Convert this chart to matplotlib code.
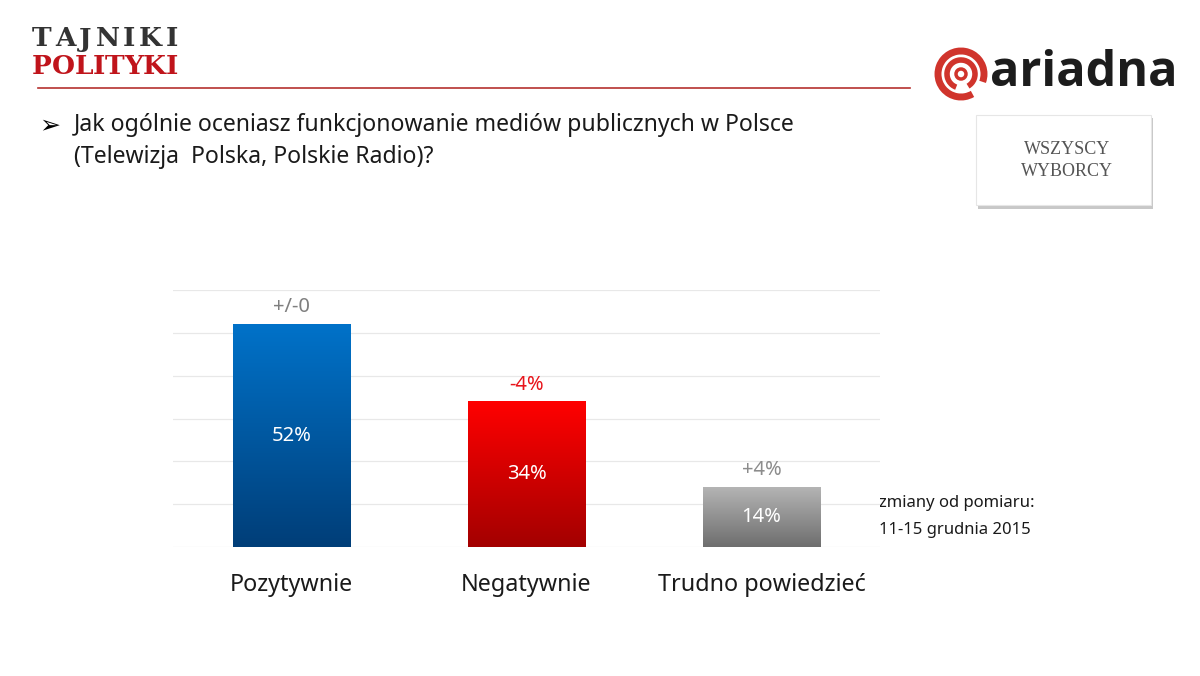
import matplotlib
matplotlib.use("Agg")
import matplotlib.pyplot as plt
import numpy as np
from matplotlib.colors import LinearSegmentedColormap
from matplotlib.patches import Rectangle, Arc, Circle

categories = ["Pozytywnie", "Negatywnie", "Trudno powiedzieć"]
values = [52, 34, 14]
changes = ["+/-0", "-4%", "+4%"]
change_colors = ["#7f7f7f", "#e8141b", "#8c8c8c"]
grads = [("#0072c9", "#003e78"), ("#ff0000", "#a30000"), ("#b4b4b4", "#6e6e6e")]
yticks = [0, 10, 20, 30, 40, 50, 60]

FONT = ["Noto Sans", "DejaVu Sans"]
plt.rcParams["font.family"] = FONT

fig = plt.figure(figsize=(12, 6.76), dpi=100)
fig.patch.set_facecolor("white")
renderer = fig.canvas.get_renderer()

# decoration layer in pixel coords
deco = fig.add_axes([0, 0, 1, 1])
deco.set_xlim(0, 1200)
deco.set_ylim(676, 0)
deco.axis("off")


def tracked(text, x0, x1, y, **kw):
    """Draw text letter by letter, spread evenly between x0 and x1."""
    arts = []
    widths = []
    for ch in text:
        t = deco.text(0, y, ch, ha="left", va="center", **kw)
        bb = t.get_window_extent(renderer=renderer)
        widths.append(bb.width)
        arts.append(t)
    gap = (x1 - x0 - sum(widths)) / (len(text) - 1)
    pos = x0
    for t, w in zip(arts, widths):
        t.set_x(pos)
        pos += w + gap


# main chart
ax = fig.add_axes([173/1200, 1-547/676, (880-173)/1200, (547-290)/676])
for s in ax.spines.values():
    s.set_visible(False)
ax.set_yticks(yticks)
ax.yaxis.grid(True, color="#e8e8e8", linewidth=0.9)
ax.set_axisbelow(True)
ax.tick_params(left=False, bottom=False, labelleft=False)
x = np.arange(len(categories))
bars = ax.bar(x, values, width=0.5, color="none", zorder=2)
grad = np.linspace(0, 1, 256).reshape(-1, 1)
for b, (c1, c2), v, ch, cc in zip(bars, grads, values, changes, change_colors):
    cmap = LinearSegmentedColormap.from_list("g", [c2, c1])
    x0, w, h = b.get_x(), b.get_width(), b.get_height()
    im = ax.imshow(grad, cmap=cmap, extent=[x0, x0 + w, 0, h], origin="lower",
                   aspect="auto", zorder=2)
    im.set_clip_path(b)
    ax.text(b.get_x() + w/2, h/2, f"{v}%", ha="center", va="center",
            color="white", fontsize=14.5, zorder=3)
    ax.text(b.get_x() + w/2, h + 1.6, ch, ha="center", va="bottom",
            color=cc, fontsize=14.5, zorder=3)
ax.set_aspect("auto")
ax.set_xlim(-0.505, 2.505)
ax.set_ylim(0, 60)
ax.set_xticks(x)
ax.set_xticklabels(categories, fontsize=16.8, color="#1a1a1a")
ax.tick_params(axis="x", pad=15)

# note
deco.text(879, 503, "zmiany od pomiaru:", fontsize=12, color="#1a1a1a", va="center", ha="left")
deco.text(879, 530, "11-15 grudnia 2015", fontsize=12, color="#1a1a1a", va="center", ha="left")

# question
deco.text(39, 125, "➢", fontsize=18, color="black", va="center", ha="left",
          family=["DejaVu Sans"])
deco.text(74, 125, "Jak ogólnie oceniasz funkcjonowanie mediów publicznych w Polsce",
          fontsize=16.6, color="#1a1a1a", va="center", ha="left")
deco.text(74, 157, "(Telewizja  Polska, Polskie Radio)?",
          fontsize=16.6, color="#1a1a1a", va="center", ha="left")

# Tajniki Polityki logo
tracked("TAJNIKI", 32, 178, 39, fontsize=19, fontweight="bold", color="#333333",
        family=["DejaVu Serif"])
tracked("POLITYKI", 32, 178, 66, fontsize=19, fontweight="bold", color="#c0141b",
        family=["DejaVu Serif"])
deco.plot([38, 910], [88, 88], color="#b5312f", linewidth=1.2)

# ariadna logo
cx, cy = 961, 74
deco.add_patch(Arc((cx, cy), 46, 46, theta1=-300, theta2=20, color="#d0342c", linewidth=5))
deco.add_patch(Arc((cx, cy), 28, 28, theta1=-250, theta2=60, color="#d0342c", linewidth=4))
deco.add_patch(Circle((cx, cy), 5, facecolor="none", edgecolor="#d0342c", linewidth=2.5))
deco.text(990, 73, "ariadna", fontsize=35, fontweight="bold", color="#1c1c1c",
          family=["Open Sans"], va="center", ha="left")

# Wszyscy wyborcy box
deco.add_patch(Rectangle((978, 118), 175, 91, facecolor="#c8c8c8", edgecolor="none", zorder=1))
deco.add_patch(Rectangle((976, 115), 175, 90, facecolor="white", edgecolor="#e6e6e6",
                         linewidth=0.8, zorder=2))
deco.text(1067, 150, "WSZYSCY", fontsize=13, color="#555555", family=["Liberation Serif"],
          va="center", ha="center", zorder=3)
deco.text(1067, 171, "WYBORCY", fontsize=13, color="#555555", family=["Liberation Serif"],
          va="center", ha="center", zorder=3)

fig.savefig("out.png", dpi=100)
